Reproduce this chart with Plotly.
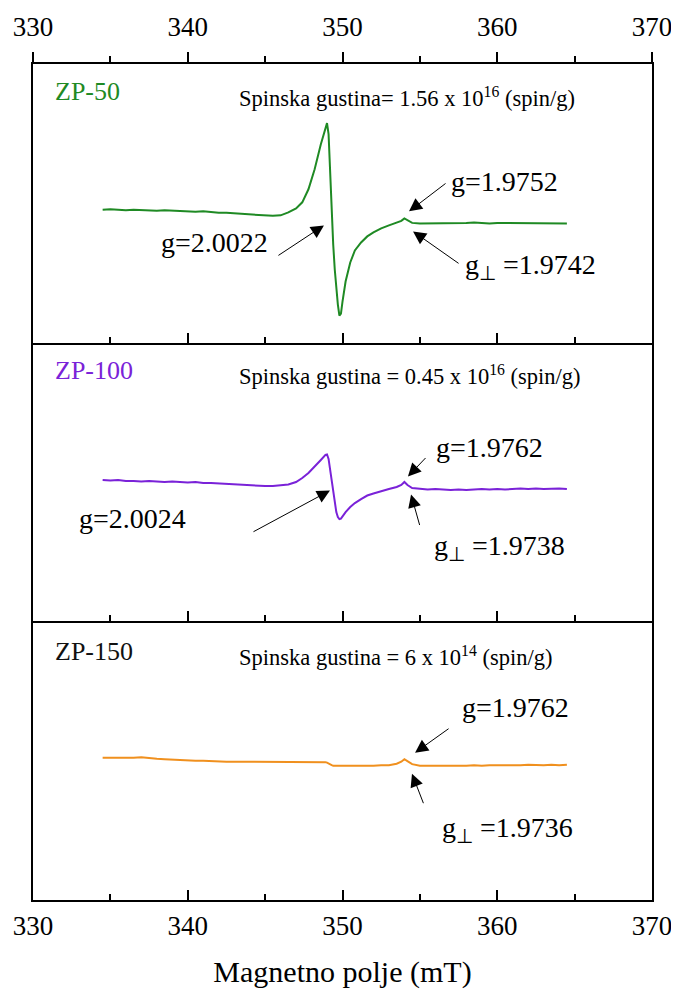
import plotly.graph_objects as go

# Magnetic field (mT)
field = [334.5, 335, 335.5, 336, 336.5, 337, 337.5, 338, 338.5, 339, 339.5, 340, 340.5, 341, 341.5,
         342, 342.5, 343, 343.5, 344, 344.5, 345, 345.5, 346, 346.5,
         347, 347.4, 347.8, 348.2, 348.6, 348.9,
         349.0, 349.1, 349.2, 349.3, 349.4, 349.5, 349.6, 349.7, 349.8, 349.9, 350.0,
         350.2, 350.5, 350.8, 351.2, 351.6, 352, 352.5, 353, 353.5, 353.8,
         354.0, 354.2, 354.5, 355,
         355.5, 356, 356.5, 357, 357.5, 358, 358.5, 359, 359.5, 360, 360.5, 361, 361.5, 362, 362.5,
         363, 363.5, 364, 364.5]

# EPR signal intensity (a.u.)
zp50 = [-6.5, -6, -6.5, -7, -6.5, -7, -7, -7.5, -7, -7.5, -8, -8, -8.5, -8, -9,
        -9.5, -9.5, -10, -11, -11.5, -12, -12.5, -12.5, -12, -9,
        -5, 1, 14, 34, 59, 77,
        80, 69, 29, -9, -41, -66, -86, -101, -112, -110, -98,
        -78, -59, -47, -39, -33, -29, -25, -22, -19.5, -17.5,
        -15, -17, -19.5, -20,
        -20, -19.5, -20, -19.5, -20, -19.5, -19, -19.5, -20, -19.5, -19.5, -20, -19.5, -19.5, -20,
        -19.5, -20, -19.5, -20]

zp100 = [2, 1.5, 2, 1, 1, 0.5, 1, 0.5, 0, 0.5, 0, -0.5, 0, -1, -1,
         -1.5, -2, -2, -2.5, -3, -3.5, -4, -4, -3.5, -2.5,
         0, 4, 9, 15, 22, 27,
         27.5, 23, 12, -1, -13, -23, -30, -35, -37, -36.5, -34,
         -30, -25, -21, -17, -13.5, -11.5, -9, -7, -5, -3,
         0, -3, -6, -7,
         -7.5, -7, -7.5, -8, -7.5, -8, -7.5, -7, -7.5, -7, -7.5, -7, -6.5, -7, -6.5,
         -7, -6.5, -6.5, -7]

zp150 = [3, 3, 2.5, 2.5, 3, 3.5, 2.5, 2, 1.5, 1, 1, 0.5, 0, 0, -0.5,
         -0.5, -1, -1, -1, -1.5, -1, -1.5, -1, -1.5, -1,
         -1.5, -1, -1.5, -1, -1.5, -1.5,
         -2, -3, -4, -4.5, -5, -5, -5.5, -5, -5, -5.5, -5,
         -5.5, -5, -5, -5.5, -5, -5, -4.5, -4.5, -3, -1,
         1.5, -0.5, -3.5, -5,
         -5, -5.5, -5, -5, -5.5, -5, -4.5, -5, -4.5, -4.5, -5, -4.5, -4.5, -4, -4.5,
         -4.5, -4, -4.5, -4]

samples = ["ZP-50", "ZP-100", "ZP-150"]
colors = ["#1f8a24", "#7a22d8", "#f0901e"]
label_colors = ["#1f8a24", "#7a22d8", "#111111"]
spin_texts = ["Spinska gustina= 1.56 x 10<sup>16</sup> (spin/g)",
              "Spinska gustina = 0.45 x 10<sup>16</sup> (spin/g)",
              "Spinska gustina = 6 x 10<sup>14</sup> (spin/g)"]
x_ticks = [330, 340, 350, 360, 370]

FONT = "Liberation Serif"


def f(size, color="black"):
    return dict(family=FONT, size=size, color=color)


fig = go.Figure()

series = [zp50, zp100, zp150]
for i, (name, vals, col) in enumerate(zip(samples, series, colors)):
    k = "" if i == 0 else str(i + 1)
    fig.add_trace(go.Scatter(x=field, y=vals, mode="lines", name=name,
                             line=dict(color=col, width=2),
                             xaxis="x" + k, yaxis="y" + k, showlegend=False))
# invisible trace to host the top axis
fig.add_trace(go.Scatter(x=field, y=zp50, mode="lines", line=dict(width=0, color="rgba(0,0,0,0)"),
                         xaxis="x4", yaxis="y", showlegend=False, hoverinfo="skip"))

domains = [[2/3, 1], [1/3, 2/3], [0, 1/3]]
axis_common = dict(range=[330, 370], tickvals=x_ticks, showline=True, linecolor="black",
                   linewidth=2, ticks="inside", ticklen=10, tickwidth=1.5, tickcolor="black",
                   minor=dict(dtick=5, ticks="inside", ticklen=6, tickwidth=1.5, tickcolor="black"),
                   showgrid=False, zeroline=False, automargin=False, tickfont=f(27))
ycommon = dict(range=[-139, 139], showline=True, mirror=True, linecolor="black", linewidth=2,
               ticks="", showticklabels=False, showgrid=False, zeroline=False, automargin=False)

# the page body adds an 8px offset, so the figure is 8px smaller than the window
layout = dict(template="none", width=671, height=987, plot_bgcolor="white", paper_bgcolor="white",
              margin=dict(l=25, r=27, t=56, b=95), font=f(20))
for i in range(3):
    k = "" if i == 0 else str(i + 1)
    ax = dict(axis_common, anchor="y" + k, showticklabels=(i == 2))
    if i == 2:
        ax["title"] = dict(text="Magnetno polje (mT)", font=f(30), standoff=21)
        ax["ticklabelstandoff"] = 1
    layout["xaxis" + k] = ax
    layout["yaxis" + k] = dict(ycommon, domain=domains[i], anchor="x" + k)
layout["xaxis4"] = dict(axis_common, overlaying="x", anchor="y", side="top", ticks="outside",
                        showticklabels=True, ticklabelstandoff=5,
                        minor=dict(dtick=5, ticks="outside", ticklen=6, tickwidth=1.5, tickcolor="black"))
fig.update_layout(**layout)

ann = []
ylabel_pos = [(112, 106), (111.5, 106.5), (109, 104)]
for i in range(3):
    k = "" if i == 0 else str(i + 1)
    ann.append(dict(x=331.3, y=ylabel_pos[i][0], xref="x" + k, yref="y" + k, text=samples[i],
                    showarrow=False, xanchor="left", font=f(26, label_colors[i])))
    ann.append(dict(x=343.15, y=ylabel_pos[i][1], xref="x" + k, yref="y" + k, text=spin_texts[i],
                    showarrow=False, xanchor="left", font=f(22.5)))

g_texts = [
    ("", 341.7, -39, "g=2.0022", "center"), ("", 360.5, 22, "g=1.9752", "center"),
    ("", 357.8, -63, "g<sub>⊥</sub> =1.9742", "left"),
    ("2", 336.46, -36.5, "g=2.0024", "center"), ("2", 359.53, 34.5, "g=1.9762", "center"),
    ("2", 355.78, -65.5, "g<sub>⊥</sub> =1.9738", "left"),
    ("3", 361.15, 53, "g=1.9762", "center"), ("3", 356.3, -69, "g<sub>⊥</sub> =1.9736", "left"),
]
for k, x, y, t, anc in g_texts:
    ann.append(dict(x=x, y=y, xref="x" + k, yref="y" + k, text=t, showarrow=False,
                    xanchor=anc, font=f(28)))

arrows = [
    ("", 348.8, -22, -47, 31), ("", 354.3, -8, 38, -29), ("", 354.56, -28, 47, 33),
    ("2", 349.19, -8.5, -78, 42), ("2", 354.23, 5.5, 19, -20), ("2", 354.43, -12.5, 9, 32),
    ("3", 354.69, 8, 35, -25), ("3", 354.49, -13, 12, 31),
]
for k, x, y, axp, ayp in arrows:
    ann.append(dict(x=x, y=y, xref="x" + k, yref="y" + k, text="", showarrow=True,
                    ax=axp, ay=ayp, arrowhead=2, arrowsize=2.6, arrowwidth=1, arrowcolor="black",
                    standoff=0))
fig.update_layout(annotations=ann)

fig.write_html("out.html")
